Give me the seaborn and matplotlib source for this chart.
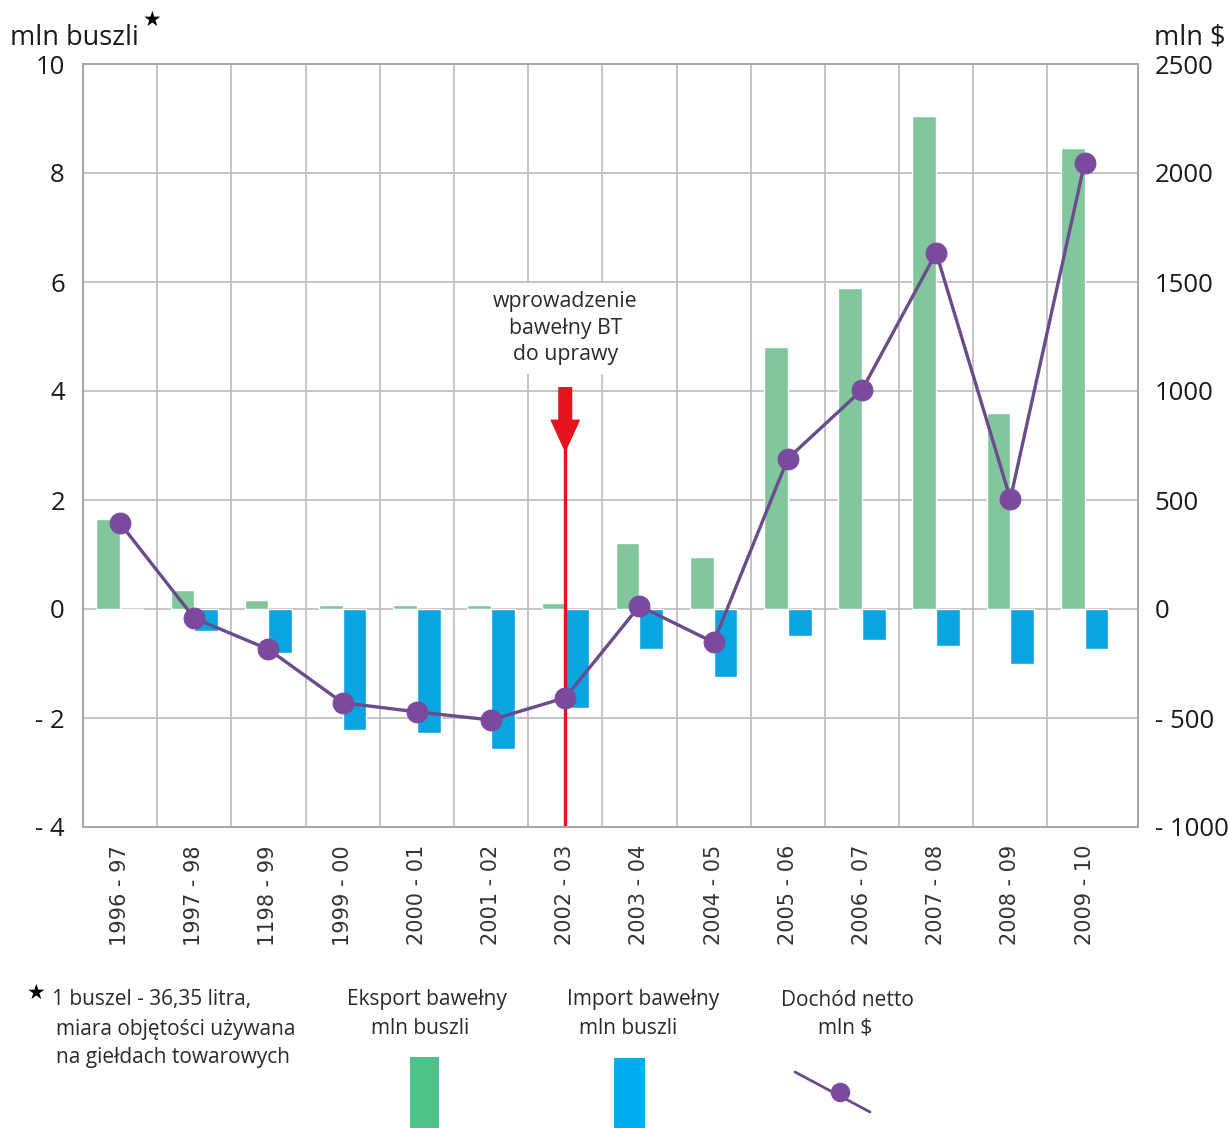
import numpy as np
import pandas as pd
import matplotlib
matplotlib.use('Agg')
import matplotlib.pyplot as plt
import seaborn as sns
from matplotlib.patches import Rectangle
from matplotlib.lines import Line2D

# data
sezony = ['1996 - 97', '1997 - 98', '1198 - 99', '1999 - 00', '2000 - 01', '2001 - 02', '2002 - 03',
          '2003 - 04', '2004 - 05', '2005 - 06', '2006 - 07', '2007 - 08', '2008 - 09', '2009 - 10']
eksport = [1.65, 0.35, 0.17, 0.07, 0.07, 0.07, 0.11, 1.22, 0.96, 4.81, 5.89, 9.04, 3.59, 8.46]
import_ = [0.0, -0.41, -0.80, -2.22, -2.28, -2.56, -1.81, -0.74, -1.24, -0.50, -0.57, -0.67, -1.00, -0.74]
dochod = [393, -42, -185, -430, -472, -509, -407, 14, -153, 690, 1005, 1634, 505, 2046]
lewe_ticki = [10, 8, 6, 4, 2, 0, -2, -4]
prawe_ticki = [2500, 2000, 1500, 1000, 500, 0, -500, -1000]

GREEN = '#82C79C'
BLUE = '#0AA5E0'
PURPLE_LINE = '#6A4C8C'
PURPLE_DOT = '#7B4A9E'
RED = '#E3141B'
GRID = '#BFBFBF'
TXT = '#1a1a1a'
TXT2 = '#2a2a2a'

sns.set_style('white')
plt.rcParams['font.family'] = ['Open Sans', 'DejaVu Sans']

W, H = 1229, 1128
fig = plt.figure(figsize=(W / 100, H / 100), dpi=100)

def fx(x):
    return x / W

def fy(y):
    return 1 - y / H

ax = fig.add_axes([fx(83), fy(827), fx(1138) - fx(83), fy(64) - fy(827)])

df = pd.DataFrame({
    'sezon': sezony * 2,
    'wartosc': eksport + import_,
    'seria': ['Eksport'] * len(sezony) + ['Import'] * len(sezony),
})
sns.barplot(data=df, x='sezon', y='wartosc', hue='seria', hue_order=['Eksport', 'Import'],
            palette=[GREEN, BLUE], width=0.64, saturation=1, gap=0, legend=False, ax=ax, zorder=2)

ax.set_xlim(-0.5, 13.72)
ax.set_ylim(-4, 10)
ax.set_xlabel('')
ax.set_ylabel('')
ax.set_yticks(lewe_ticki)
ax.set_yticklabels([str(v).replace('-', '- ') for v in lewe_ticki], fontsize=18.5, color=TXT)
ax.set_xticks(range(len(sezony)))
ax.set_xticklabels(sezony, rotation=90, fontsize=15, color='#333333', family='DejaVu Sans',
                   va='top')
ax.set_xticks(np.arange(0.5, len(sezony) - 1, 1), minor=True)
ax.tick_params(axis='both', which='both', length=0)
ax.tick_params(axis='y', pad=13)
ax.tick_params(axis='x', pad=13)
ax.grid(axis='y', which='major', color=GRID, lw=1.3, zorder=0)
ax.grid(axis='x', which='minor', color=GRID, lw=1.3, zorder=0)
ax.grid(axis='x', which='major', visible=False)
ax.set_axisbelow(True)
for s in ax.spines.values():
    s.set_color('#A6A6A6')
    s.set_linewidth(1.3)

# red arrow: introduction of Bt cotton
ax.axvline(6, ymin=0, ymax=(2.95 + 4) / 14, color=RED, lw=2.4, zorder=3)
ax.annotate('', xy=(6, 2.9), xytext=(6, 4.06),
            arrowprops=dict(arrowstyle='simple,head_length=1.7,head_width=1.55,tail_width=0.7',
                            color=RED, mutation_scale=13, shrinkA=0, shrinkB=0), zorder=4)
ax.text(6, 5.15, 'wprowadzenie\nbawełny BT\ndo uprawy', ha='center', va='center',
        fontsize=15.3, color=TXT2, linespacing=1.35, zorder=5,
        bbox=dict(boxstyle='square,pad=0.4', fc='white', ec='none'))

# right axis: net income
ax2 = ax.twinx()
sns.lineplot(x=np.arange(len(sezony)), y=dochod, ax=ax2, color=PURPLE_LINE, lw=2.4,
             marker='o', markersize=15, markerfacecolor=PURPLE_DOT, markeredgecolor=PURPLE_DOT,
             zorder=6)
ax2.set_ylim(-1000, 2500)
ax2.set_xlim(-0.5, 13.72)
ax2.set_yticks(prawe_ticki)
ax2.set_yticklabels([str(v).replace('-', '- ') for v in prawe_ticki], fontsize=18.5, color=TXT)
ax2.tick_params(axis='y', length=0, pad=12)
ax2.grid(False)
for s in ax2.spines.values():
    s.set_color('#A6A6A6')
    s.set_linewidth(1.3)

# axis titles
fig.text(fx(10), fy(38), 'mln buszli', fontsize=19.5, color=TXT, va='center', ha='left')
fig.text(fx(152), fy(20), '★', fontsize=15, color='black', va='center', ha='center',
         family='DejaVu Sans')
fig.text(fx(1226), fy(38), 'mln $', fontsize=19.5, color=TXT, va='center', ha='right')

# bottom legend
fig.text(fx(36), fy(993), '★', fontsize=15, color='black', va='center', ha='center',
         family='DejaVu Sans')
fig.text(fx(52), fy(1000), '1 buszel - 36,35 litra,', fontsize=15, color=TXT2,
         va='center', ha='left')
fig.text(fx(56), fy(1030), 'miara objętości używana', fontsize=15, color=TXT2,
         va='center', ha='left')
fig.text(fx(56), fy(1058), 'na giełdach towarowych', fontsize=15, color=TXT2,
         va='center', ha='left')

fig.text(fx(427), fy(1000), 'Eksport bawełny', fontsize=15, color=TXT2, va='center', ha='center')
fig.text(fx(420), fy(1029), 'mln buszli', fontsize=15, color=TXT2, va='center', ha='center')
fig.add_artist(Rectangle((fx(410), 0), fx(439) - fx(410), fy(1057), transform=fig.transFigure,
                         color='#4CC38A', lw=0))

fig.text(fx(643), fy(1000), 'Import bawełny', fontsize=15, color=TXT2, va='center', ha='center')
fig.text(fx(628), fy(1029), 'mln buszli', fontsize=15, color=TXT2, va='center', ha='center')
fig.add_artist(Rectangle((fx(614), 0), fx(645) - fx(614), fy(1058), transform=fig.transFigure,
                         color='#00AEEF', lw=0))

fig.text(fx(847), fy(1000), 'Dochód netto', fontsize=15, color=TXT2, va='center', ha='center')
fig.text(fx(845), fy(1029), 'mln $', fontsize=15, color=TXT2, va='center', ha='center')
fig.add_artist(Line2D([fx(795), fx(870)], [fy(1072), fy(1112)], transform=fig.transFigure,
                      color=PURPLE_LINE, lw=2))
fig.add_artist(Line2D([fx(840)], [fy(1092)], transform=fig.transFigure, marker='o',
                      markersize=13, color=PURPLE_DOT, lw=0))

fig.savefig('out.png', dpi=100)
